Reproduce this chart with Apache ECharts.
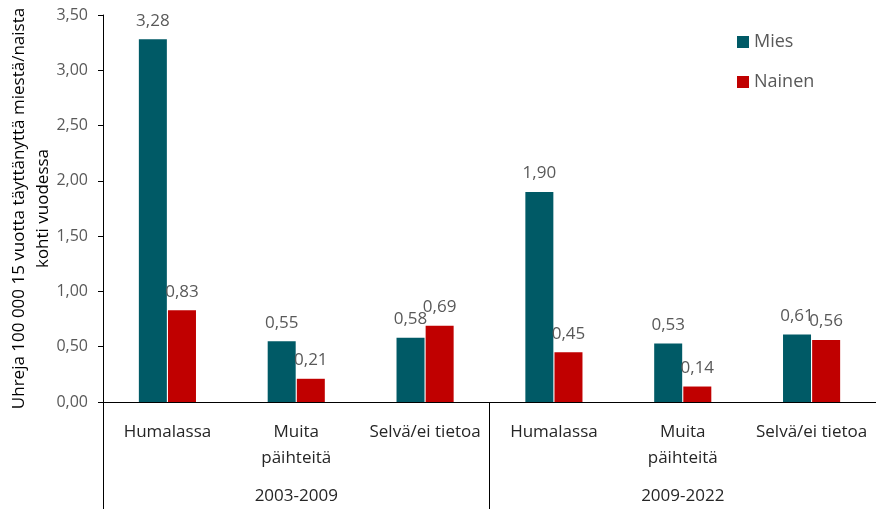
<!DOCTYPE html>
<html>
<head>
<meta charset="utf-8">
<script src="https://cdn.jsdelivr.net/npm/echarts@6/dist/echarts.min.js"></script>
<style>
  html, body { margin: 0; padding: 0; background: #fff; }
  #chart { width: 876px; height: 509px; }
</style>
</head>
<body>
<div id="chart"></div>
<script>
// data
const periods = ['2003-2009', '2009-2022'];
const states = ['Humalassa', 'Muita\npäihteitä', 'Selvä/ei tietoa'];
const categories = periods.flatMap(() => states);
const miesValues = [3.28, 0.55, 0.58, 1.90, 0.53, 0.61];
const nainenValues = [0.83, 0.21, 0.69, 0.45, 0.14, 0.56];
const yTicks = [0, 0.5, 1, 1.5, 2, 2.5, 3, 3.5];

const font = '"Open Sans", "Noto Sans", sans-serif';
const fmt = v => Number(v).toFixed(2).replace('.', ',');

const chart = echarts.init(document.getElementById('chart'));

const barLabel = {
  show: true,
  position: 'top',
  distance: 10,
  fontFamily: font,
  fontSize: 17,
  color: '#595959',
  formatter: p => fmt(p.value)
};

chart.setOption({
  animation: false,
  textStyle: { fontFamily: font },
  grid: { left: 103, right: 0, top: 15, bottom: 107, containLabel: false, outerBoundsMode: 'none' },
  legend: {
    orient: 'vertical',
    left: 732,
    top: 25,
    itemWidth: 12,
    itemHeight: 12,
    itemGap: 16,
    icon: 'rect',
    textStyle: { fontFamily: font, fontSize: 18, color: '#595959', lineHeight: 24 },
    data: ['Mies', 'Nainen']
  },
  xAxis: [
    {
      type: 'category',
      data: categories,
      position: 'bottom',
      axisLine: { show: true, lineStyle: { color: '#000', width: 1 } },
      axisTick: { show: false },
      axisLabel: {
        interval: 0,
        margin: 17,
        fontFamily: font,
        fontSize: 17,
        lineHeight: 26,
        color: '#262626'
      }
    },
    {
      type: 'category',
      data: periods,
      position: 'bottom',
      axisLine: { show: false },
      axisTick: { show: true, length: 107, lineStyle: { color: '#000', width: 1 } },
      axisLabel: {
        margin: 83,
        fontFamily: font,
        fontSize: 17,
        lineHeight: 22,
        color: '#262626'
      }
    }
  ],
  yAxis: {
    type: 'value',
    min: yTicks[0],
    max: yTicks[yTicks.length - 1],
    interval: 0.5,
    name: 'Uhreja 100 000 15 vuotta täyttänyttä miestä/naista\nkohti vuodessa',
    nameLocation: 'middle',
    nameGap: 48,
    nameMoveOverlap: false,
    nameTextStyle: { fontFamily: font, fontSize: 17, color: '#000', lineHeight: 24 },
    axisLine: { show: true, lineStyle: { color: '#000', width: 1 } },
    axisTick: { show: true, length: 5, lineStyle: { color: '#000' } },
    splitLine: { show: false },
    axisLabel: {
      margin: 15,
      fontFamily: font,
      fontSize: 16,
      color: '#595959',
      formatter: v => fmt(v)
    }
  },
  series: [
    {
      name: 'Mies',
      type: 'bar',
      xAxisIndex: 0,
      data: miesValues,
      barWidth: 28,
      barGap: '4%',
      itemStyle: { color: '#005A66' },
      label: barLabel
    },
    {
      name: 'Nainen',
      type: 'bar',
      xAxisIndex: 0,
      data: nainenValues,
      barWidth: 28,
      barGap: '4%',
      itemStyle: { color: '#C00000' },
      label: barLabel
    }
  ]
});
</script>
</body>
</html>
